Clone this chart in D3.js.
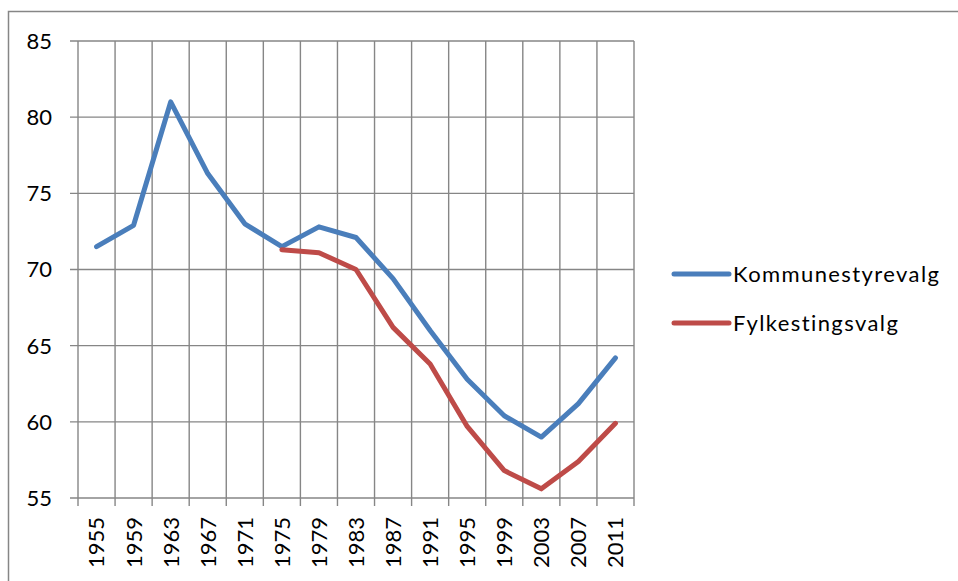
<!DOCTYPE html>
<html>
<head>
<meta charset="utf-8">
<script src="https://cdn.jsdelivr.net/npm/d3@7"></script>
<style>
  body { margin: 0; background: #fff; }
  text { font-family: Lato, "Open Sans", sans-serif; fill: #000; }
</style>
</head>
<body>
<svg width="958" height="581"></svg>
<script>
var years = [1955, 1959, 1963, 1967, 1971, 1975, 1979, 1983, 1987, 1991, 1995, 1999, 2003, 2007, 2011];
var kommune = [71.5, 72.9, 81.0, 76.3, 73.0, 71.5, 72.8, 72.1, 69.4, 66.0, 62.8, 60.4, 59.0, 61.2, 64.2];
var fylke = [null, null, null, null, null, 71.3, 71.1, 70.0, 66.2, 63.8, 59.7, 56.8, 55.6, 57.4, 59.9];
var yTicks = [55, 60, 65, 70, 75, 80, 85];
var seriesNames = ["Kommunestyrevalg", "Fylkestingsvalg"];
var colors = ["#4a7ebb", "#be4b48"];

var svg = d3.select("svg");
var plotLeft = 78, plotRight = 634, plotTop = 41, plotBottom = 498;

// outer chart frame (cut off at right and bottom)
svg.append("path")
    .attr("d", "M8.5,590 V11.5 H970")
    .attr("fill", "none")
    .attr("stroke", "#868686")
    .attr("stroke-width", 1.5);

var x = d3.scaleBand().domain(years).range([plotLeft, plotRight]).padding(0);
var y = d3.scaleLinear().domain([55, 85]).range([plotBottom, plotTop]);

var grid = svg.append("g").attr("stroke", "#868686").attr("stroke-width", 1.4);

// vertical gridlines at category boundaries, running down as ticks
var edges = years.map(d => x(d)).concat([plotRight]);
grid.selectAll(".vline")
    .data(edges)
  .join("line")
    .attr("x1", d => d).attr("x2", d => d)
    .attr("y1", plotTop).attr("y2", plotBottom + 8);

grid.selectAll(".hline")
    .data(yTicks)
  .join("line")
    .attr("x1", plotLeft - 8).attr("x2", plotRight)
    .attr("y1", d => y(d)).attr("y2", d => y(d));

svg.selectAll(".ylab")
    .data(yTicks)
  .join("text")
    .attr("x", 52)
    .attr("y", d => y(d))
    .attr("dy", "0.36em")
    .attr("text-anchor", "end")
    .attr("font-size", 22)
    .text(d => d);

svg.selectAll(".xlab")
    .data(years)
  .join("text")
    .attr("transform", d => "translate(" + (x(d) + x.bandwidth() / 2) + ",517) rotate(-90)")
    .attr("dy", "0.36em")
    .attr("text-anchor", "end")
    .attr("font-size", 22)
    .text(d => d);

var line = d3.line()
    .defined(d => d != null)
    .x((d, i) => x(years[i]) + x.bandwidth() / 2)
    .y(d => y(d));

[kommune, fylke].forEach(function(s, i) {
  svg.append("path")
      .attr("d", line(s))
      .attr("fill", "none")
      .attr("stroke", colors[i])
      .attr("stroke-width", 5)
      .attr("stroke-linejoin", "round")
      .attr("stroke-linecap", "round");
});

var legend = svg.selectAll(".leg")
    .data(seriesNames)
  .join("g")
    .attr("transform", (d, i) => "translate(674," + (274 + i * 49) + ")");

legend.append("line")
    .attr("x1", 0).attr("x2", 55)
    .attr("stroke", (d, i) => colors[i])
    .attr("stroke-width", 5)
    .attr("stroke-linecap", "round");

legend.append("text")
    .attr("x", 59)
    .attr("dy", "0.36em")
    .attr("font-size", 22)
    .attr("letter-spacing", 1.4)
    .text(d => d);
</script>
</body>
</html>
